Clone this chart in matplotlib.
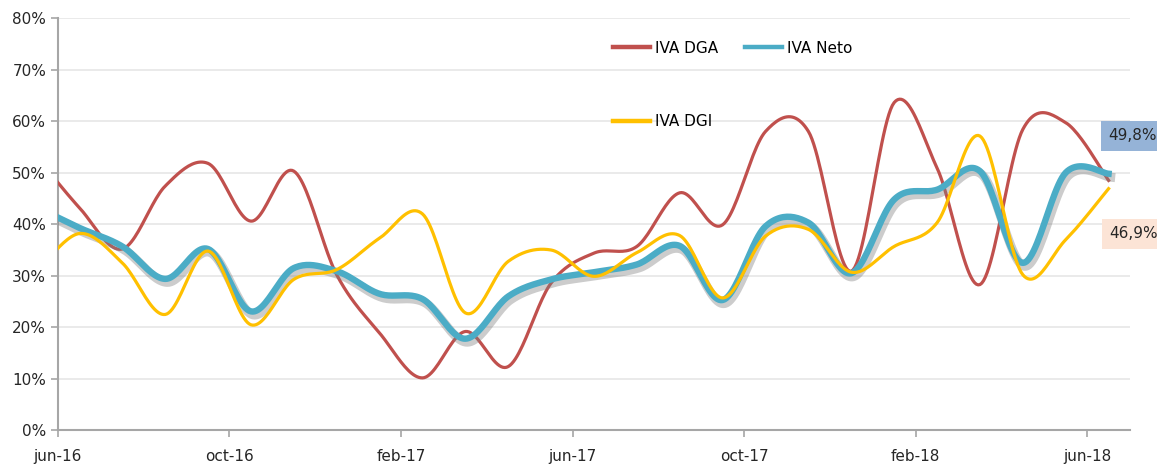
import matplotlib
matplotlib.use("Agg")
import matplotlib.pyplot as plt
import matplotlib.patheffects as pe
import numpy as np

# months: may-16 (clipped at the axis) .. jun-18, values in %
meses = ["may-16", "jun-16", "jul-16", "ago-16", "sep-16", "oct-16", "nov-16", "dic-16",
         "ene-17", "feb-17", "mar-17", "abr-17", "may-17", "jun-17", "jul-17", "ago-17",
         "sep-17", "oct-17", "nov-17", "dic-17", "ene-18", "feb-18", "mar-18", "abr-18",
         "may-18", "jun-18"]
iva_dga = [53.2, 43.2, 35.2, 47.4, 51.8, 40.6, 50.3, 30.2, 18.9, 10.2, 19.2, 12.4, 28.6,
           34.4, 35.7, 46.1, 39.9, 58.0, 58.0, 30.9, 63.6, 50.9, 28.3, 58.4, 59.7, 48.5]
iva_neto = [43.3, 39.3, 35.7, 29.4, 35.2, 23.1, 31.5, 30.9, 26.5, 25.5, 17.8, 26.0, 29.3,
            30.7, 32.2, 35.8, 25.3, 39.6, 40.3, 30.5, 44.8, 46.7, 50.3, 32.5, 50.0, 49.8]
iva_dgi = [30.7, 38.2, 32.5, 22.5, 34.8, 20.5, 29.3, 31.2, 37.3, 42.0, 22.8, 32.8, 35.0,
           29.9, 34.5, 37.8, 25.7, 37.7, 39.0, 30.7, 35.7, 40.3, 57.1, 30.2, 37.0, 46.9]
tick_labels = ["jun-16", "oct-16", "feb-17", "jun-17", "oct-17", "feb-18", "jun-18"]


def smooth(x, y, n=24):
    # catmull-rom like excel "smoothed line"
    x = np.asarray(x, float)
    y = np.asarray(y, float)
    px = np.concatenate([[x[0]], x, [x[-1]]])
    py = np.concatenate([[y[0]], y, [y[-1]]])
    xs, ys = [], []
    t = np.linspace(0, 1, n, endpoint=False)
    for i in range(1, len(px) - 2):
        p0, p1, p2, p3 = py[i - 1], py[i], py[i + 1], py[i + 2]
        q0, q1, q2, q3 = px[i - 1], px[i], px[i + 1], px[i + 2]
        for P, out in (((p0, p1, p2, p3), ys), ((q0, q1, q2, q3), xs)):
            a, b, c, d = P
            out.extend(0.5 * (2 * b + (-a + c) * t + (2 * a - 5 * b + 4 * c - d) * t ** 2
                              + (-a + 3 * b - 3 * c + d) * t ** 3))
    xs.append(x[-1])
    ys.append(y[-1])
    return np.array(xs), np.array(ys)


x = np.arange(len(meses)) - 0.5   # mid-month, jun-16 starts at 0

fig = plt.figure(figsize=(11.57, 4.66), dpi=100)
ax = fig.add_axes([0.0501, 0.0762, 0.9266, 0.8852])

red = "#C0504D"
blue = "#4BACC6"
yellow = "#FFC000"

sx, sy = smooth(x, iva_dga)
l1, = ax.plot(sx, sy, color=red, lw=2.3, label="IVA DGA", zorder=3)
sx, sy = smooth(x, iva_neto)
l2, = ax.plot(sx, sy, color=blue, lw=4.6, label="IVA Neto", zorder=4,
              path_effects=[pe.SimpleLineShadow(offset=(1.5, -2.5), shadow_color="#808080",
                                                alpha=0.4, linewidth=6.5),
                            pe.Normal()])
sx, sy = smooth(x, iva_dgi)
l3, = ax.plot(sx, sy, color=yellow, lw=2.3, label="IVA DGI", zorder=5)

ax.set_xlim(0, 25)
ax.set_ylim(0, 80)
ax.set_yticks(range(0, 81, 10))
ax.set_yticklabels([f"{v}%" for v in range(0, 81, 10)])
ax.set_xticks(range(0, 25, 4))
ax.set_xticklabels(tick_labels)
ax.grid(axis="y", color="#E6E6E6", lw=1.2)
ax.set_axisbelow(True)
for s in ["top", "right"]:
    ax.spines[s].set_visible(False)
for s in ["left", "bottom"]:
    ax.spines[s].set_color("#A6A6A6")
    ax.spines[s].set_linewidth(1.5)
ax.tick_params(axis="both", colors="#A6A6A6", labelcolor="#262626", labelsize=11,
               width=1.2, length=5)
ax.tick_params(axis="x", pad=8)

leg = ax.legend([l1, l3, l2], ["IVA DGA", "IVA DGI", "IVA Neto"], ncol=2,
                loc="upper left", bbox_to_anchor=(0.518, 0.945), frameon=False,
                fontsize=11, handlelength=2.4, handletextpad=0.35, columnspacing=1.75,
                labelspacing=3.85, borderpad=0, borderaxespad=0)
for h in leg.get_lines():
    h.set_linewidth(3.2)
    h.set_path_effects([])

ax.annotate("49,8%", xy=(x[-1], iva_neto[-1]), xytext=(24, 38), textcoords="offset pixels",
            ha="center", va="center", fontsize=11, color="#262626",
            bbox=dict(boxstyle="square,pad=0.5", fc="#95B3D7", ec="none"),
            annotation_clip=False)
ax.annotate("46,9%", xy=(x[-1], iva_dgi[-1]), xytext=(25, -45), textcoords="offset pixels",
            ha="center", va="center", fontsize=11, color="#262626",
            bbox=dict(boxstyle="square,pad=0.5", fc="#FCE4D6", ec="none"),
            annotation_clip=False)

fig.savefig("out.png", dpi=100)
